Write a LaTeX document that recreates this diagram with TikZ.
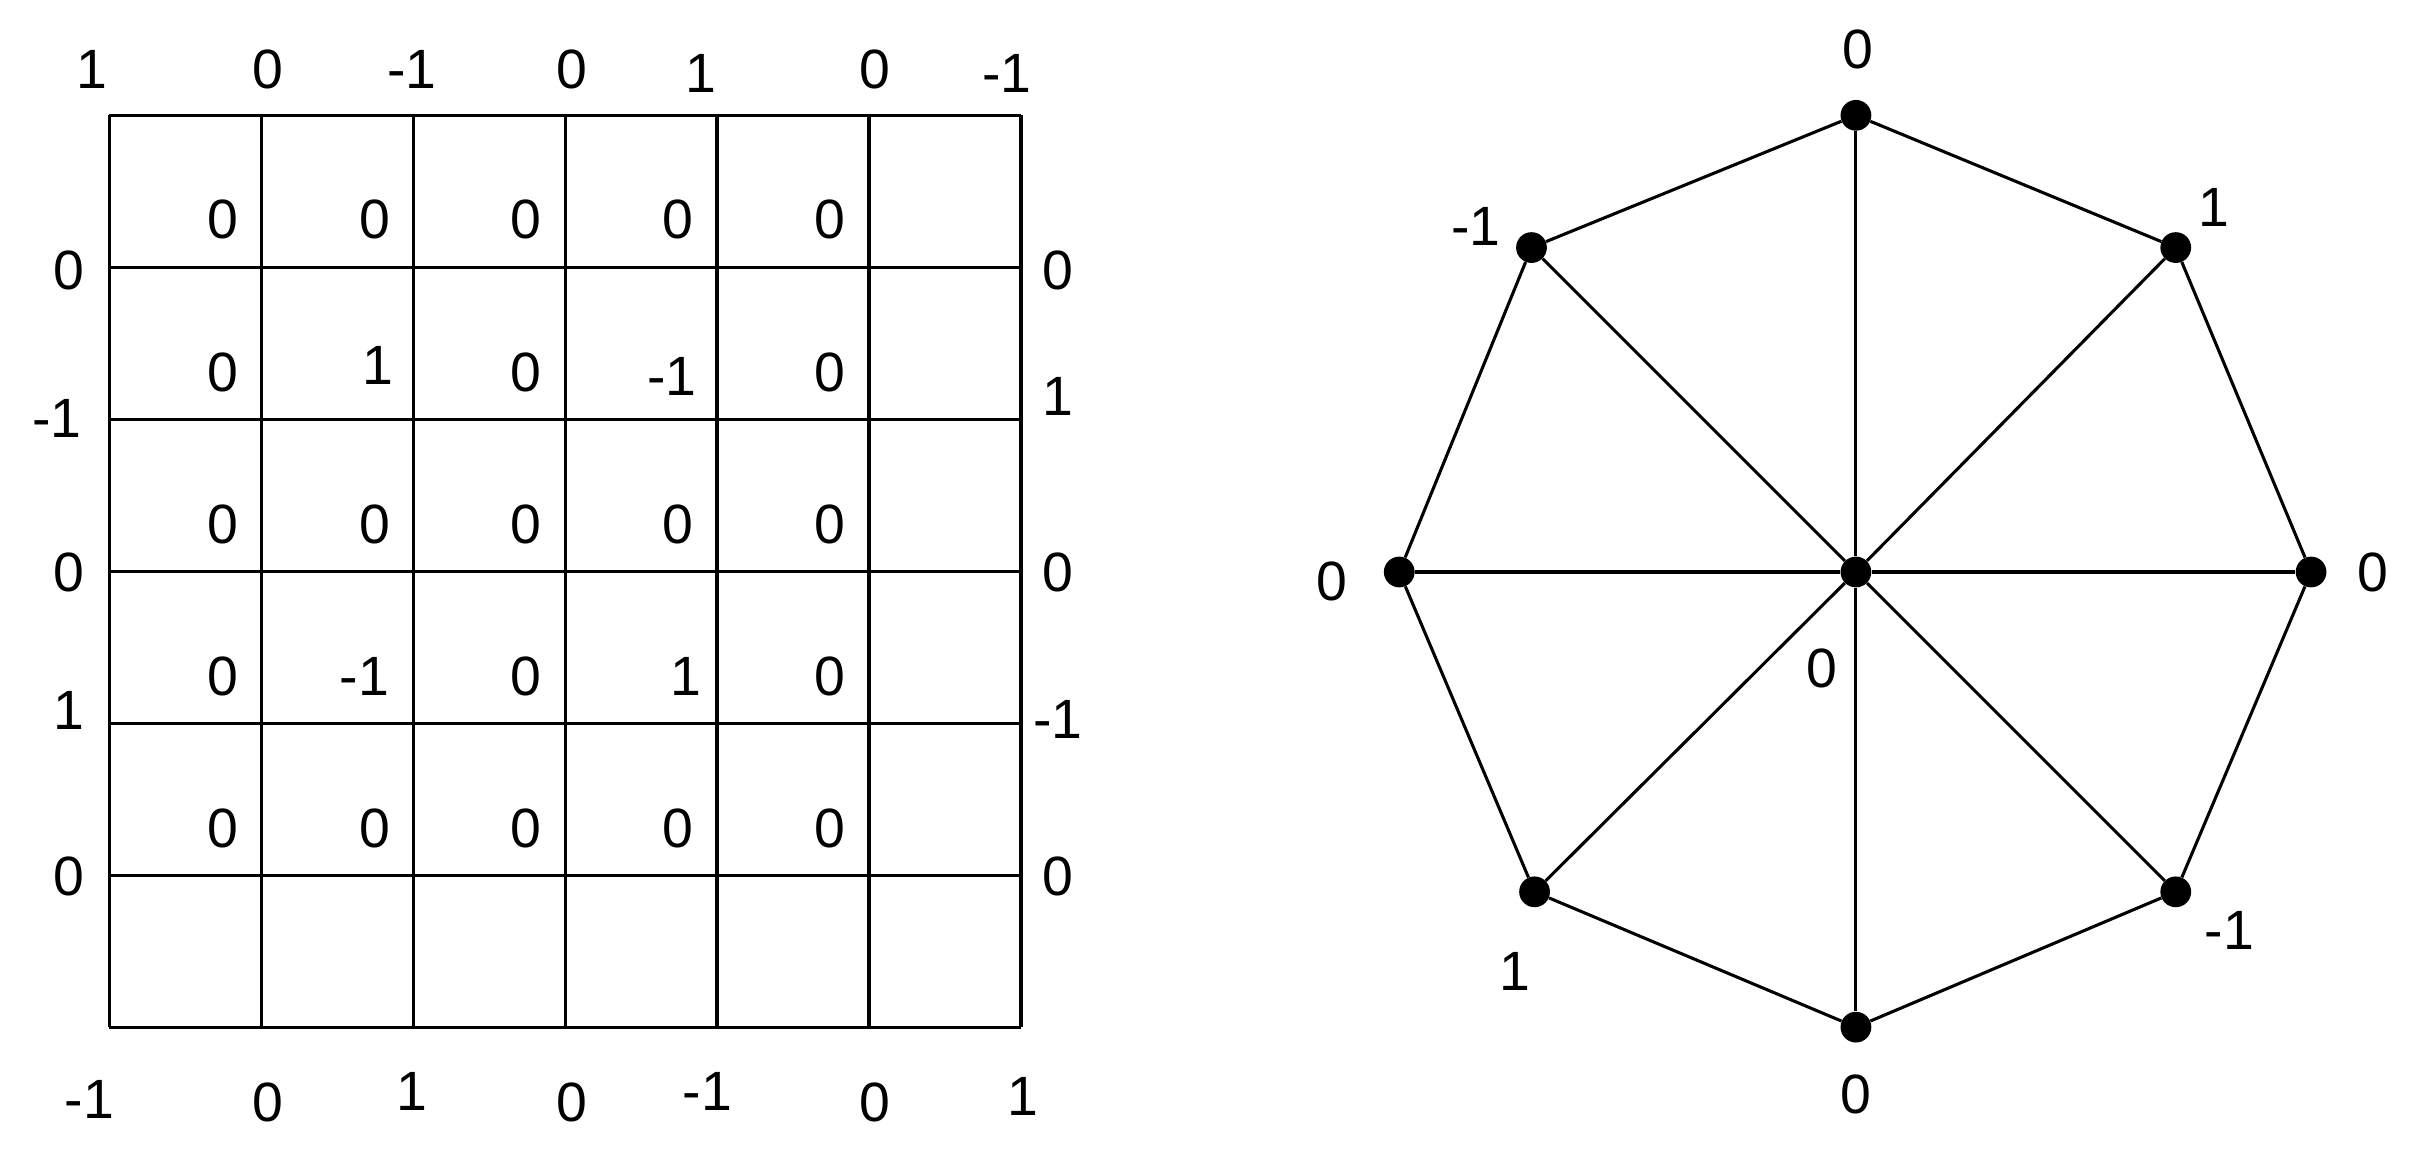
\documentclass[tikz,border=0pt]{standalone}
\usepackage{fontspec}
\setmainfont{Liberation Sans}
\begin{document}
\begin{tikzpicture}[x=1pt,y=-1pt,
  lab/.style={font=\fontsize{36}{40}\selectfont,inner sep=0pt},
  dot/.style={circle,fill=black,minimum size=20pt,inner sep=0pt},
  ln/.style={line width=2pt}]
\useasboundingbox (0,0) rectangle (1568,748.6);
% grid
\foreach \i in {0,...,6}{
  \draw[ln] ({71+\i*98.83},75) -- ({71+\i*98.83},668);
  \draw[ln] (71,{75+\i*98.83}) -- (664,{75+\i*98.83});
}
% top / bottom labels
\foreach \x/\t/\y in {60/1/45,174/0/45,268/-1/45,372/0/45,456/1/48,569/0/45,655/-1/48}
  \node[lab] at (\x,\y) {\t};
\foreach \x/\t/\y in {58/-1/715,174/0/717,268/1/710,372/0/717,460/-1/710,569/0/717,665/1/713}
  \node[lab] at (\x,\y) {\t};
% left / right labels
\foreach \x/\t/\y in {45/0/176,37/-1/272,45/0/372,45/1/462,45/0/570}
  \node[lab] at (\x,\y) {\t};
\foreach \x/\t/\y in {688/0/176,688/1/258,688/0/372,688/-1/468,688/0/570}
  \node[lab] at (\x,\y) {\t};
% interior
\foreach \y in {143,341,539}
  \foreach \x in {145,244,342,441,540}
    \node[lab] at (\x,\y) {0};
\foreach \x/\t/\y in {145/0/242,246/1/238,342/0/242,437/-1/245,540/0/242,
                      145/0/440,237/-1/440,342/0/440,446/1/440,540/0/440}
  \node[lab] at (\x,\y) {\t};
% octagon
\node[dot] (c) at (1207,372) {};
\node[dot] (v1) at (1207,75) {};
\node[dot] (v2) at (1415,161) {};
\node[dot] (v3) at (1503,372) {};
\node[dot] (v4) at (1415,580) {};
\node[dot] (v5) at (1207,668) {};
\node[dot] (v6) at (998,580) {};
\node[dot] (v7) at (910,372) {};
\node[dot] (v8) at (996,161) {};
\draw[ln] (v1)--(v2)--(v3)--(v4)--(v5)--(v6)--(v7)--(v8)--(v1);
\foreach \v in {v1,v2,v3,v4,v5,v6,v7,v8} \draw[ln] (c) -- (\v);
\node[lab] (l1) at (1208,32) {0};
\node[lab] (l2) at (1440,135) {1};
\node[lab] (l3) at (1543,372) {0};
\node[lab] (l4) at (1450,605) {-1};
\node[lab] (l5) at (1207,712) {0};
\node[lab] (l6) at (985,632) {1};
\node[lab] (l7) at (866,378) {0};
\node[lab] (l8) at (960,147) {-1};
\node[lab] (lc) at (1185,435) {0};
\end{tikzpicture}
\end{document}
